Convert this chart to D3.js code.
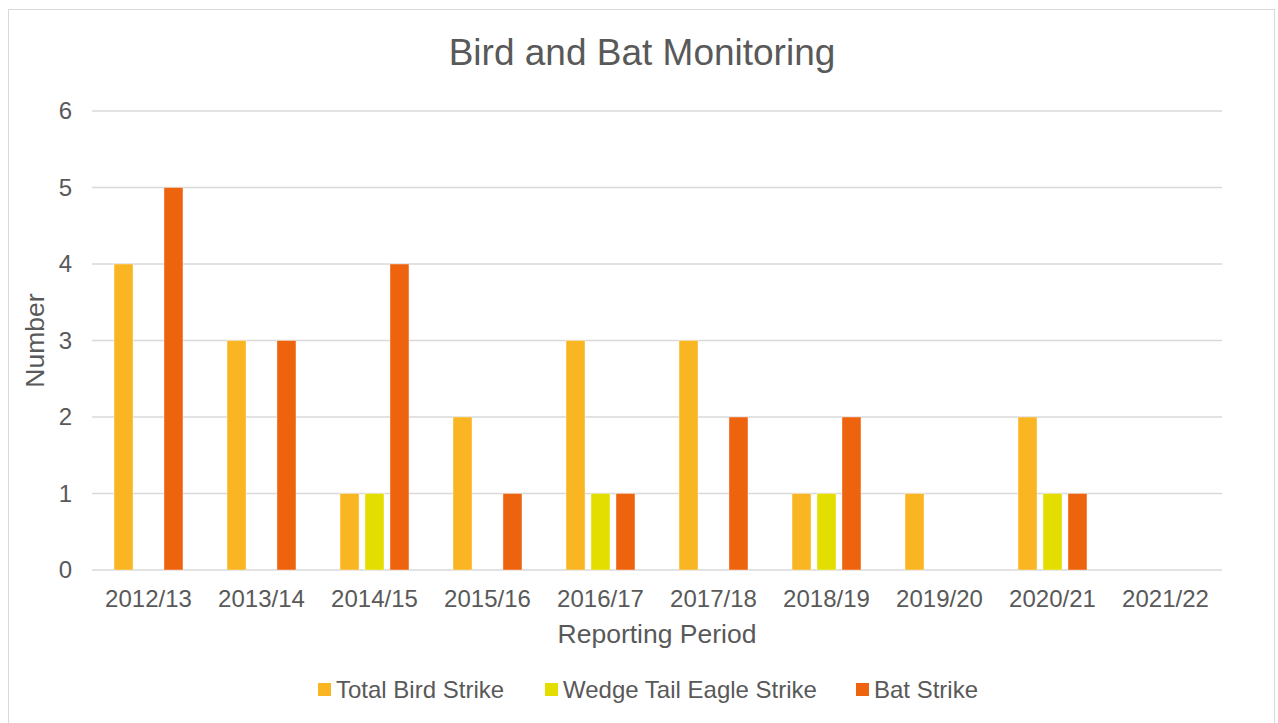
<!DOCTYPE html>
<html>
<head>
<meta charset="utf-8">
<script src="https://cdn.jsdelivr.net/npm/d3@7"></script>
<style>
  body { margin: 0; background: #fff; }
  text { font-family: "Liberation Sans", Arial, sans-serif; fill: #595959; }
</style>
</head>
<body>
<div id="chart"></div>
<script>
// chart data
const periods = ['2012/13', '2013/14', '2014/15', '2015/16', '2016/17', '2017/18', '2018/19', '2019/20', '2020/21', '2021/22'];
const seriesNames = ['Total Bird Strike', 'Wedge Tail Eagle Strike', 'Bat Strike'];
const totalBird = [4, 3, 1, 2, 3, 3, 1, 1, 2, 0];
const wedgeTail = [0, 0, 1, 0, 1, 0, 1, 0, 1, 0];
const batStrike = [5, 3, 4, 1, 1, 2, 2, 0, 1, 0];
const yTicks = [0, 1, 2, 3, 4, 5, 6];

const colors = ['#F9B522', '#E3DE00', '#EE630D'];

const width = 1278, height = 723;
const margin = { top: 111, right: 56, bottom: 153, left: 92 };
const innerW = width - margin.left - margin.right;
const innerH = height - margin.top - margin.bottom;

const svg = d3.select('#chart').append('svg')
  .attr('width', width)
  .attr('height', height);

// outer chart border
svg.append('rect')
  .attr('x', 8.5).attr('y', 9.5)
  .attr('width', 1266).attr('height', 730)
  .attr('fill', 'none')
  .attr('stroke', '#D9D9D9')
  .attr('stroke-width', 1);

const chart = svg.append('g')
  .attr('transform', `translate(${margin.left},${margin.top})`);

const x0 = d3.scaleBand().domain(periods).range([0, innerW]);
const x1 = d3.scaleBand().domain(seriesNames)
  .range([x0.bandwidth() * 0.195, x0.bandwidth() * 0.805])
  .paddingInner(0.24);
const y = d3.scaleLinear().domain([0, 6]).range([innerH, 0]);

// gridlines
chart.selectAll('.grid')
  .data(yTicks)
  .join('line')
  .attr('class', 'grid')
  .attr('x1', 0).attr('x2', innerW)
  .attr('y1', d => y(d)).attr('y2', d => y(d))
  .attr('stroke', '#D9D9D9')
  .attr('stroke-width', 1.5);

// y tick labels
chart.selectAll('.y-label')
  .data(yTicks)
  .join('text')
  .attr('class', 'y-label')
  .attr('x', -20)
  .attr('y', d => y(d))
  .attr('dy', '0.35em')
  .attr('text-anchor', 'end')
  .style('font-size', '24px')
  .text(d => d);

const rows = periods.map((p, i) => ({
  period: p,
  values: [totalBird[i], wedgeTail[i], batStrike[i]]
}));

const groups = chart.selectAll('.group')
  .data(rows)
  .join('g')
  .attr('class', 'group')
  .attr('transform', d => `translate(${x0(d.period)},0)`);

groups.selectAll('rect')
  .data(d => d.values.map((v, k) => ({ key: seriesNames[k], value: v, k: k })).filter(d => d.value > 0))
  .join('rect')
  .attr('x', d => x1(d.key))
  .attr('width', x1.bandwidth())
  .attr('y', d => y(d.value))
  .attr('height', d => innerH - y(d.value))
  .attr('fill', d => colors[d.k])
  .attr('stroke', '#fff')
  .attr('stroke-opacity', 0.5)
  .attr('stroke-width', 0.75);

// x tick labels
chart.selectAll('.x-label')
  .data(periods)
  .join('text')
  .attr('class', 'x-label')
  .attr('x', d => x0(d) + x0.bandwidth() / 2)
  .attr('y', innerH + 37)
  .attr('text-anchor', 'middle')
  .style('font-size', '24px')
  .text(d => d);

// title
svg.append('text')
  .attr('x', 642).attr('y', 65)
  .attr('text-anchor', 'middle')
  .style('font-size', '37px')
  .text('Bird and Bat Monitoring');

// axis titles
svg.append('text')
  .attr('x', margin.left + innerW / 2).attr('y', 643)
  .attr('text-anchor', 'middle')
  .style('font-size', '26.5px')
  .text('Reporting Period');

svg.append('text')
  .attr('transform', `translate(44,${margin.top + innerH / 2}) rotate(-90)`)
  .attr('text-anchor', 'middle')
  .style('font-size', '26.5px')
  .text('Number');

// legend
const legendX = [318, 545, 856];
const legend = svg.selectAll('.legend')
  .data(seriesNames)
  .join('g')
  .attr('class', 'legend')
  .attr('transform', (d, i) => `translate(${legendX[i]},683)`);

legend.append('rect')
  .attr('width', 13).attr('height', 13)
  .attr('fill', (d, i) => colors[i]);

legend.append('text')
  .attr('x', 18).attr('y', 7)
  .attr('dy', '0.35em')
  .style('font-size', '24px')
  .text(d => d);
</script>
</body>
</html>
